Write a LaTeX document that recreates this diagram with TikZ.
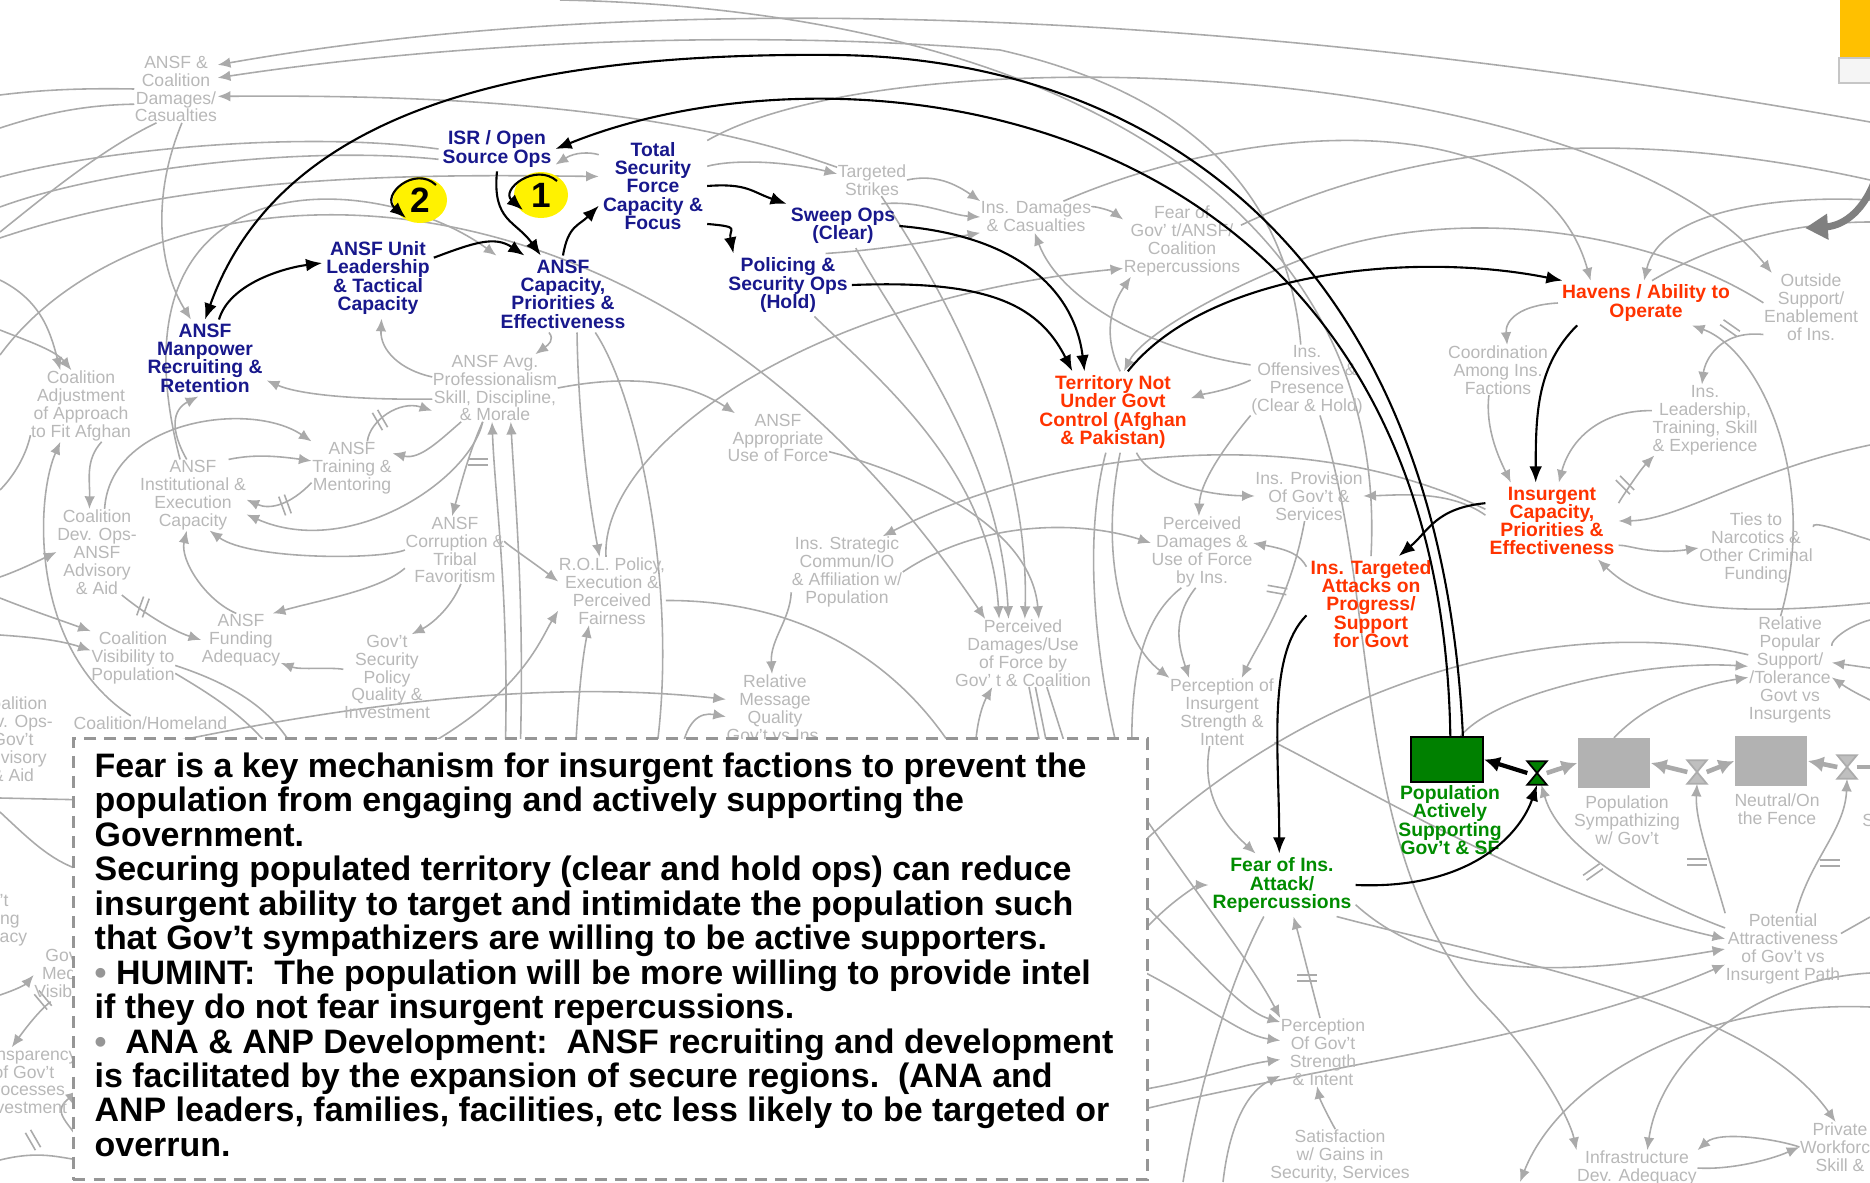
\documentclass[tikz,border=0pt]{standalone}
\usepackage{fontspec}
\setmainfont{Liberation Sans}
\usetikzlibrary{arrows.meta,shapes.geometric}
\pgfdeclarelayer{back}
\pgfsetlayers{back,main}
\definecolor{txtgray}{RGB}{184,184,184}
\definecolor{lngray}{RGB}{170,170,170}
\definecolor{navy}{RGB}{24,24,140}
\definecolor{ored}{RGB}{255,51,0}
\definecolor{dgreen}{RGB}{0,140,0}
\definecolor{stockgreen}{RGB}{0,128,0}
\definecolor{stockgray}{RGB}{178,178,178}
\definecolor{boxgray}{RGB}{150,150,150}
\definecolor{orng}{RGB}{255,192,0}
\tikzset{
  gnode/.style={text=txtgray, font=\fontsize{5}{5.1}\selectfont, align=center, inner sep=0pt},
  bnode/.style={text=navy, font=\bfseries\fontsize{5.5}{5.2}\selectfont, align=center, inner sep=1pt},
  rnode/.style={bnode, text=ored},
  grnode/.style={bnode, text=dgreen},
  gline/.style={draw=lngray, line width=0.45pt},
  garr/.style={gline, -{Latex[length=3.6pt,width=3pt]}},
  blk/.style={draw=black, line width=0.6pt, -{Latex[length=4.6pt,width=3.6pt]}},
  pipeb/.style={draw=black, line width=1.2pt, -{Latex[length=4.5pt,width=4.5pt]}},
  pipeg/.style={draw=lngray, line width=1.3pt, -{Latex[length=4.5pt,width=4.5pt]}},
  stockg/.style={draw=black, fill=stockgreen, line width=0.6pt, minimum width=0.72cm, minimum height=0.45cm, inner sep=0pt},
  stockgr/.style={fill=stockgray, minimum width=0.72cm, minimum height=0.49cm, inner sep=0pt},
  valvebox/.style={minimum width=0.18cm, minimum height=0.22cm, inner sep=0pt},
  loopnode/.style={ellipse, fill=yellow, minimum width=0.54cm, minimum height=0.46cm, inner sep=0pt, font=\bfseries\fontsize{10}{10}\selectfont},
  notebox/.style={draw=boxgray, fill=white, line width=0.85pt, dash pattern=on 3.4pt off 2.3pt, minimum width=10.73cm, minimum height=4.41cm, inner sep=0pt},
  notetext/.style={font=\bfseries\fontsize{9.65}{9.8}\selectfont, align=left, inner sep=0pt},
  bigarr/.style={draw=gray, line width=2pt, -{Triangle[length=6.5pt,width=7pt]}},
  dmark/.pic={\draw[gline] (-3,-10) -- (-3,10) (3,-10) -- (3,10);}
}
\begin{document}
\begin{tikzpicture}[x=0.01cm,y=-0.01cm]
\useasboundingbox (0,0) rectangle (1870,1182);
\clip (0,0) rectangle (1870,1182);
%%free ends
\foreach \n/\px/\py in {w1/0/95,w2/0/128,w3/0/232,w4/0/177,w5/0/207,w6/0/238,w7/0/355,w8/0/280,w9/0/330,
  w10/0/577,w11/0/598,w12/0/635,w13/0/490,w16/0/798,w17/0/812,w18/0/995,w20/0/1160,
  e1/1870/122,e3/1870/200,e4/1870/222,e5/1870/180,e6/1870/445,e7/1870/603,e8/1870/540,e10/1870/668,
  e11/1870/700,e12/1870/620,e14/1870/1007,e15/1870/917,e16/1870/973,e18/1870/767,
  n1/560/0,s1/1183/1182,s2/1223/1182,s3/1520/1182,
  b1/300/760,b2/280/760,b3/655/760,b4/400/760,b5/575/760,b6/505/760,b7/520/760,b8/90/760,b9/680/760,
  b10/960/760,b12/1120/760,b13/1132/760,b14/975/760,b15/1043/760,b16/1050/760,b17/1070/760,
  b18/1140/1110,b19/1140/845,b20/1140/935,b21/1140/810,b22/1140/900,b23/1140/970,b24/1140/1090,
  b26/90/800,b27/80/870,b28/80/1140,b29/80/1160}
  \coordinate (\n) at (\px,\py);
%%corner
\fill[orng] (1840,0) rectangle (1870,58);
\filldraw[fill=gray!8, draw=gray!45, line width=0.5pt] (1839,58) rectangle (1873,83);
\coordinate (ptrtail) at (1875,180);
\coordinate (ptrhead) at (1805,228);
\draw[bigarr] (ptrtail) .. controls (1862,215) and (1840,226) .. (ptrhead);
%%gray variables
\node[gnode] (dmg) at (176,89) {ANSF \&\\Coalition\\Damages/\\Casualties};
\node[gnode] (adj) at (81,406) {Coalition\\Adjustment\\of Approach\\to Fit Afghan};
\node[gnode] (inst) at (193,495) {ANSF\\Institutional \&\\Execution\\Capacity};
\node[gnode] (train) at (352,468) {ANSF\\Training \&\\Mentoring};
\node[gnode] (devops) at (97,552) {Coalition\\Dev. Ops-\\ANSF\\Advisory\\\& Aid};
\node[gnode] (visib) at (133,658) {Coalition\\Visibility to\\Population};
\node[gnode] (fund) at (241,640) {ANSF\\Funding\\Adequacy};
\node[gnode] (corr) at (455,550) {ANSF\\Corruption \&\\Tribal\\Favoritism};
\node[gnode] (secpol) at (387,677) {Gov't\\Security\\Policy\\Quality \&\\Investment};
\node[gnode, anchor=west] (home) at (73,723) {Coalition/Homeland};
\node[gnode] (avg) at (495,388) {ANSF Avg.\\Professionalism\\Skill, Discipline,\\\& Morale};
\node[gnode] (rol) at (612,591) {R.O.L. Policy,\\Execution \&\\Perceived\\Fairness};
\node[gnode] (approp) at (778,438) {ANSF\\Appropriate\\Use of Force};
\node[gnode] (strat) at (847,572) {Ins. Strategic\\Commun/IO\\\& Affiliation w/\\Population};
\node[gnode] (relmsg) at (775,708) {Relative\\Message\\Quality\\Gov't vs Ins.};
\node[gnode] (strikes) at (872,180) {Targeted\\Strikes};
\node[gnode] (insdmg) at (1036,217) {Ins. Damages\\\& Casualties};
\node[gnode] (feargov) at (1182,241) {Fear of\\Gov' t/ANSF/\\Coalition\\Repercussions};
\node[gnode] (offens) at (1307,380) {Ins.\\Offensives \&\\Presence\\(Clear \& Hold)};
\node[gnode] (outside) at (1811,307) {Outside\\Support/\\Enablement\\of Ins.};
\node[gnode] (coord) at (1498,370) {Coordination\\Among Ins.\\Factions};
\node[gnode] (insled) at (1705,420) {Ins.\\Leadership,\\Training, Skill\\\& Experience};
\node[gnode] (provis) at (1309,496) {Ins. Provision\\Of Gov't \&\\Services};
\node[gnode] (pdmgins) at (1202,552) {Perceived\\Damages \&\\Use of Force\\by Ins.};
\node[gnode] (pdmggov) at (1023,653) {Perceived\\Damages/Use\\of Force by\\Gov' t \& Coalition};
\node[gnode] (percins) at (1222,712) {Perception of\\Insurgent\\Strength \&\\Intent};
\node[gnode] (ties) at (1756,548) {Ties to\\Narcotics \&\\Other Criminal\\Funding};
\node[gnode] (relpop) at (1790,670) {Relative\\Popular\\Support/\\/Tolerance\\Govt vs\\Insurgents};
\node[gnode] (percgov) at (1323,1052) {Perception\\Of Gov't\\Strength\\\& Intent};
\node[gnode] (satis) at (1340,1156) {Satisfaction\\w/ Gains in\\Security, Services};
\node[gnode] (potent) at (1783,949) {Potential\\Attractiveness\\of Gov't vs\\Insurgent Path};
\node[gnode] (infra) at (1637,1168) {Infrastructure\\Dev. Adequacy};
\node[gnode] (priv) at (1840,1147) {Private\\Workforce\\Skill \&};
\node[gnode] (st1lab) at (1627,820) {Population\\Sympathizing\\w/ Gov't};
\node[gnode] (st2lab) at (1777,809) {Neutral/On\\the Fence};
\node[gnode] (st3lab) at (1915,820) {Population\\Sympathizing\\w/ Ins.};
\node[gnode] (leftA) at (13,739) {Coalition\\Dev. Ops-\\Gov't\\Advisory\\\& Aid};
\node[gnode] (leftB) at (-12,920) {Gov't\\Funding\\Adequacy};
\node[gnode] (leftC) at (66,975) {Gov't\\Media\\Visibility};
\node[gnode] (leftD) at (24,1081) {Transparency\\of Gov't\\Processes\\Investment};
%%highlighted variables
\node[bnode] (isr) at (497,149) {ISR / Open\\Source Ops};
\node[bnode] (tsf) at (653,186) {Total\\Security\\Force\\Capacity \&\\Focus};
\node[bnode] (sw) at (843,226) {Sweep Ops\\(Clear)};
\node[bnode] (pol) at (788,285) {Policing \&\\Security Ops\\(Hold)};
\node[bnode] (cap) at (563,294) {ANSF\\Capacity,\\Priorities \&\\Effectiveness};
\node[bnode] (ul) at (378,278) {ANSF Unit\\Leadership\\\& Tactical\\Capacity};
\node[bnode] (mp) at (205,358) {ANSF\\Manpower\\Recruiting \&\\Retention};
\node[rnode] (ter) at (1113,412) {Territory Not\\Under Govt\\Control (Afghan\\\& Pakistan)};
\node[rnode] (hav) at (1646,303) {Havens / Ability to\\Operate};
\node[rnode] (inscap) at (1552,521) {Insurgent\\Capacity,\\Priorities \&\\Effectiveness};
\node[rnode] (instarg) at (1371,604) {Ins. Targeted\\Attacks on\\Progress/\\Support\\for Govt};
\node[grnode] (popact) at (1450,820) {Population\\Actively\\Supporting\\Gov't \& SF};
\node[grnode] (fearins) at (1282,885) {Fear of Ins.\\Attack/\\Repercussions};
%%stocks and flows
\node[stockg] (popstock) at (1447,759.5) {};
\node[stockgr] (st1) at (1614,763) {};
\node[stockgr] (st2) at (1771,761) {};
\node[valvebox] (v1) at (1537,773) {};
\node[valvebox] (v2) at (1697,772) {};
\node[valvebox] (v3) at (1847,767) {};
\filldraw[fill=stockgreen, draw=black, line width=0.5pt] (v1.north west) -- (v1.north east) -- (v1.center) -- cycle
  (v1.south west) -- (v1.south east) -- (v1.center) -- cycle;
\foreach \v in {v2,v3}
  \filldraw[fill=gray!50, draw=gray!65, line width=0.5pt] (\v.north west) -- (\v.north east) -- (\v.center) -- cycle
  (\v.south west) -- (\v.south east) -- (\v.center) -- cycle;
\draw[pipeb] (v1.west) -- (popstock.east);
\draw[pipeg] (v1.east) -- (st1.west);
\draw[pipeg] (v2.west) -- (st1.east);
\draw[pipeg] (v2.east) -- (st2.west);
\draw[pipeg] (v3.west) -- (st2.east);
\draw[draw=lngray, line width=1.3pt] (v3.east) -- (e18);
%%loops
\node[loopnode] (loopb) at (420,200) {2};
\node[loopnode] (loopa) at (541,195) {1};
\draw[blk] (436,185) .. controls (415,165) and (380,195) .. (406,218);
\draw[blk] (557,181) .. controls (535,162) and (500,190) .. (523,210);
\begin{pgfonlayer}{back}
\clip (0,0) rectangle (1870,1182);
%%top arcs
\draw[garr] (e1) .. controls (1300,20) and (700,-20) .. (dmg.30);
\draw[garr] (offens.100) .. controls (1290,220) and (1220,100) .. (1000,50) .. controls (700,25) and (400,50) .. (dmg.15);
\draw[garr] (strikes.160) .. controls (650,100) and (400,95) .. (dmg.-10);
\draw[gline] (dmg.west) .. controls (80,88) and (40,90) .. (w1);
\draw[gline] (dmg.200) .. controls (80,105) and (40,115) .. (w2);
\draw[gline] (dmg.240) .. controls (100,150) and (40,200) .. (w3);
\draw[garr] (dmg.280) .. controls (150,200) and (160,270) .. (mp.110);
\draw[gline] (isr.west) .. controls (300,130) and (100,150) .. (w4);
\draw[gline] (isr.190) .. controls (300,145) and (100,170) .. (w5);
\draw[garr] (w6) .. controls (200,170) and (450,175) .. (tsf.170);
\draw[garr] (w7) .. controls (150,150) and (650,120) .. (pdmggov.138);
\draw[gline] (n1) .. controls (1050,10) and (1390,200) .. (instarg.north);
\draw[garr] (strikes.-60) .. controls (950,300) and (1030,450) .. (pdmggov.87);
\draw[garr] (sw.-60) .. controls (900,330) and (1000,450) .. (pdmggov.113);
\draw[garr] (pol.-50) .. controls (880,380) and (990,470) .. (pdmggov.125);
\draw[garr] (approp.-15) .. controls (900,470) and (1030,520) .. (pdmggov.65);
\draw[garr] (avg.east) .. controls (650,370) and (700,390) .. (approp.150);
\draw[garr] (cap.250) .. controls (555,340) and (548,345) .. (avg.40);
\draw[garr] (avg.170) .. controls (400,370) and (380,350) .. (ul.-85);
\draw[garr] (avg.190) .. controls (360,400) and (300,395) .. (mp.-20);
\draw[garr] (tsf.150) .. controls (590,152) and (575,152) .. (isr.-15);
\draw[garr] (tsf.20) .. controls (730,160) and (780,160) .. (strikes.170);
\draw[garr] (insdmg.30) .. controls (1250,120) and (1540,100) .. (hav.158);
\draw[garr] (e3) .. controls (1780,195) and (1660,210) .. (hav.95);
\draw[gline] (hav.75) .. controls (1720,240) and (1800,222) .. (e4);
\draw[garr] (tsf.40) .. controls (900,30) and (1600,60) .. (outside.139);
\draw[gline] (feargov.15) .. controls (1400,150) and (1600,120) .. (e5);
\draw[garr] (insdmg.10) .. controls (1090,205) and (1110,210) .. (feargov.160);
\draw[garr] (rol.100) .. controls (600,450) and (800,300) .. (feargov.205);
\draw[garr] (ter.80) .. controls (1100,330) and (1115,300) .. (feargov.215);
\draw[garr] (outside.175) .. controls (1650,230) and (1450,200) .. (1300,260) .. controls (1200,300) and (1140,340) .. (ter.75);
\draw[garr] (offens.west) .. controls (1230,390) and (1200,395) .. (ter.10);
\draw[garr] (offens.165) .. controls (1150,350) and (1060,300) .. (insdmg.-95);
\draw[garr] (strikes.east) .. controls (930,175) and (950,180) .. (insdmg.north west);
\draw[garr] (sw.30) .. controls (920,200) and (950,215) .. (insdmg.west);
\draw[garr] (pol.40) .. controls (880,250) and (940,240) .. (insdmg.south west);
%%left
\draw[garr] (w8) .. controls (40,300) and (50,330) .. (adj.120);
\draw[garr] (w9) .. controls (25,340) and (55,350) .. (adj.105);
\draw[garr] (adj.-60) .. controls (85,460) and (90,480) .. (devops.100);
\draw[garr] (devops.80) .. controls (110,420) and (250,400) .. (train.north west);
\draw[garr] (inst.45) .. controls (250,455) and (270,455) .. (train.170);
\draw[garr] (train.200) .. controls (290,505) and (270,510) .. (inst.-5);
\draw[garr] (train.60) .. controls (370,420) and (400,400) .. (avg.200);
\draw[garr] (avg.225) .. controls (440,440) and (420,460) .. (train.20);
\draw[garr] (avg.250) .. controls (470,480) and (350,560) .. (inst.-20);
\draw[garr] (corr.west) .. controls (380,560) and (250,560) .. (inst.-65);
\draw[garr] (corr.200) .. controls (380,590) and (320,600) .. (fund.40);
\draw[garr] (fund.100) .. controls (205,600) and (180,560) .. (inst.-100);
\draw[garr] (devops.-60) .. controls (140,610) and (170,630) .. (fund.west);
\draw[garr] (w10) .. controls (20,570) and (40,560) .. (devops.west);
\draw[garr] (w11) .. controls (30,610) and (60,620) .. (visib.north west);
\draw[garr] (w12) .. controls (30,637) and (60,640) .. (visib.170);
\draw[gline] (visib.-10) .. controls (250,690) and (280,720) .. (b1);
\draw[gline] (visib.-20) .. controls (220,700) and (250,720) .. (b2);
\draw[garr] (secpol.170) .. controls (330,667) and (300,670) .. (fund.-30);
\draw[garr] (corr.-80) .. controls (450,610) and (430,625) .. (secpol.60);
\draw[garr] (home.160) .. controls (30,650) and (35,500) .. (adj.-120);
\draw[gline] (adj.-150) .. controls (25,460) and (10,480) .. (w13);
\draw[garr] (inst.100) .. controls (170,430) and (172,410) .. (mp.-100);
\draw[garr] (inst.110) .. controls (100,150) and (380,170) .. (cap.150);
\draw[gline] (w16) -- (b26);
\draw[gline] (w17) .. controls (30,840) and (50,860) .. (b27);
\draw[garr] (w18) .. controls (15,990) and (25,985) .. (leftC.west);
\draw[garr] (leftC.-120) .. controls (40,1010) and (28,1025) .. (leftD.110);
\draw[garr] (b28) .. controls (60,1115) and (55,1110) .. (leftD.-10);
\draw[gline] (w20) .. controls (40,1150) and (60,1158) .. (b29);
%%middle
\draw[garr] (cap.-70) .. controls (578,400) and (585,480) .. (rol.110);
\draw[gline] (cap.-50) .. controls (640,400) and (680,600) .. (b3);
\draw[garr] (corr.10) .. controls (500,540) and (530,560) .. (rol.170);
\draw[garr] (b4) .. controls (520,700) and (540,640) .. (rol.200);
\draw[garr] (b5) .. controls (578,700) and (582,660) .. (rol.-124);
\draw[garr] (b6) .. controls (510,600) and (495,500) .. (avg.-95);
\draw[garr] (b7) .. controls (525,600) and (515,500) .. (avg.-65);
\draw[garr] (avg.-110) .. controls (470,450) and (462,480) .. (corr.95);
\draw[garr] (strat.200) .. controls (790,620) and (770,640) .. (relmsg.95);
\draw[garr] (b8) .. controls (350,700) and (550,680) .. (relmsg.170);
\draw[garr] (b9) .. controls (685,720) and (700,712) .. (relmsg.190);
\draw[gline] (rol.-10) .. controls (800,600) and (900,660) .. (b10);
\draw[garr] (inscap.170) .. controls (1300,420) and (1050,450) .. (strat.45);
\draw[garr] (inscap.175) .. controls (1450,490) and (1400,495) .. (provis.east);
\draw[garr] (ter.-60) .. controls (1150,480) and (1200,495) .. (provis.west);
\draw[garr] (offens.south west) .. controls (1230,440) and (1200,480) .. (pdmgins.95);
\draw[garr] (instarg.150) .. controls (1300,555) and (1290,550) .. (pdmgins.10);
\draw[garr] (strat.east) .. controls (980,520) and (1080,520) .. (pdmgins.170);
\draw[garr] (pdmgins.-100) .. controls (1170,620) and (1180,650) .. (percins.134);
\draw[garr] (provis.-100) .. controls (1290,600) and (1260,640) .. (percins.60);
\draw[garr] (ter.-80) .. controls (1100,550) and (1120,640) .. (percins.north west);
\draw[gline] (ter.-100) .. controls (1080,550) and (1100,680) .. (b12);
\draw[gline] (pdmgins.-120) .. controls (1140,620) and (1130,680) .. (b13);
\draw[garr] (b14) .. controls (975,720) and (985,700) .. (pdmggov.-132);
\draw[gline] (pdmggov.-80) -- (b15);
\draw[gline] (pdmggov.-70) -- (b16);
\draw[gline] (pdmggov.-55) -- (b17);
%%right
\draw[garr] (hav.west) .. controls (1520,305) and (1505,320) .. (coord.70);
\draw[garr] (coord.-110) .. controls (1485,430) and (1500,460) .. (inscap.137);
\draw[garr] (insled.170) .. controls (1600,410) and (1570,440) .. (inscap.80);
\draw[garr] (inscap.15) .. controls (1620,500) and (1640,470) .. (insled.-145);
\draw[garr] (e6) .. controls (1750,470) and (1680,520) .. (inscap.east);
\draw[garr] (inscap.-20) .. controls (1630,545) and (1650,555) .. (ties.west);
\draw[garr] (e7) .. controls (1700,620) and (1640,600) .. (inscap.-40);
\draw[gline] (ties.20) .. controls (1810,520) and (1840,530) .. (e8);
\draw[garr] (relpop.100) .. controls (1820,480) and (1760,350) .. (hav.-26);
\draw[garr] (outside.-150) .. controls (1720,330) and (1705,360) .. (insled.95);
\draw[garr] (potent.160) .. controls (1650,900) and (1560,850) .. (v1.-70);
\draw[garr] (potent.north west) .. controls (1710,860) and (1695,820) .. (v2.south);
\draw[garr] (potent.70) .. controls (1810,860) and (1845,830) .. (v3.south);
\draw[garr] (percins.-30) .. controls (1350,780) and (1550,900) .. (potent.170);
\draw[garr] (fearins.-15) .. controls (1450,990) and (1600,970) .. (potent.west);
\draw[garr] (b18) .. controls (1350,1060) and (1550,1040) .. (potent.-165);
\draw[garr] (fearins.-30) .. controls (1500,960) and (1750,1000) .. (priv.100);
\draw[garr] (offens.-70) .. controls (1380,600) and (1350,850) .. (1480,1000) .. controls (1540,1060) and (1570,1120) .. (infra.north west);
\draw[garr] (popstock.60) .. controls (1500,690) and (1650,660) .. (relpop.175);
\draw[garr] (st1.north) .. controls (1650,700) and (1700,685) .. (relpop.190);
\draw[gline] (relpop.160) .. controls (1600,620) and (1350,650) .. (b19);
\draw[garr] (e10) -- (relpop.10);
\draw[garr] (e11) .. controls (1860,695) and (1850,690) .. (relpop.-10);
\draw[gline] (relpop.30) .. controls (1830,640) and (1850,625) .. (e12);
\draw[garr] (satis.100) .. controls (1330,1120) and (1320,1100) .. (percgov.-100);
\draw[garr] (percgov.95) .. controls (1310,980) and (1300,940) .. (fearins.-70);
\draw[garr] (percins.-110) .. controls (1200,800) and (1230,830) .. (fearins.130);
\draw[garr] (b20) .. controls (1170,900) and (1200,885) .. (fearins.west);
\draw[garr] (b21) .. controls (1200,900) and (1250,960) .. (percgov.north west);
\draw[garr] (b22) .. controls (1200,960) and (1240,1010) .. (percgov.145);
\draw[garr] (b23) .. controls (1200,1000) and (1240,1035) .. (percgov.165);
\draw[garr] (b24) .. controls (1200,1080) and (1240,1065) .. (percgov.190);
\draw[garr] (s2) .. controls (1230,1120) and (1250,1090) .. (percgov.209);
\draw[gline] (fearins.-120) .. controls (1230,980) and (1200,1080) .. (s1);
\draw[garr] (priv.180) .. controls (1780,1140) and (1720,1130) .. (infra.north east);
\draw[garr] (infra.east) .. controls (1730,1170) and (1770,1160) .. (priv.west);
\draw[garr] (e14) .. controls (1700,1000) and (1560,1080) .. (s3);
\draw[gline] (potent.15) -- (e15);
\draw[garr] (e16) .. controls (1750,980) and (1660,1060) .. (infra.60);
%%delays
\pic[rotate=30] at (380,420) {dmark};
\pic[rotate=20] at (285,505) {dmark};
\pic[rotate=-20] at (143,607) {dmark};
\pic[rotate=-90] at (478,462) {dmark};
\pic[rotate=45] at (1625,485) {dmark};
\pic[rotate=55] at (1730,328) {dmark};
\pic[rotate=-100] at (1277,590) {dmark};
\pic[rotate=90] at (1307,978) {dmark};
\pic[rotate=125] at (1593,872) {dmark};
\pic[rotate=90] at (1697,862) {dmark};
\pic[rotate=90] at (1830,863) {dmark};
\pic[rotate=40] at (43,1000) {dmark};
\pic[rotate=30] at (33,1140) {dmark};
\end{pgfonlayer}
%%black links
\draw[blk] (isr.south) .. controls +(-5,50) and +(-25,-35) .. (cap.120);
\draw[blk] (cap.north) .. controls +(5,-30) and +(-20,20) .. (tsf.200);
\draw[blk] (tsf.east) .. controls +(40,-3) and +(-35,-12) .. (sw.north west);
\draw[blk] (tsf.-35) .. controls +(35,3) and +(-5,-25) .. (pol.150);
\draw[blk] (ul.20) .. controls +(40,-15) and +(-30,-20) .. (cap.135);
\draw[blk] (mp.70) .. controls +(10,-35) and +(-40,5) .. (ul.165);
\draw[blk] (popstock.82) .. controls (1440,100) and (850,30) .. (isr.east);
\draw[blk] (popstock.56) .. controls (1440,250) and (1150,58) .. (835,55) .. controls (520,52) and (280,110) .. (mp.north);
\draw[blk] (sw.east) .. controls +(120,10) and +(-10,-80) .. (ter.125);
\draw[blk] (pol.east) .. controls +(130,-5) and +(-35,-70) .. (ter.135);
\draw[blk] (ter.70) .. controls +(80,-100) and +(-150,-30) .. (hav.165);
\draw[blk] (hav.198) .. controls +(-40,40) and +(0,-70) .. (inscap.113);
\draw[blk] (inscap.165) .. controls +(-50,5) and +(30,-25) .. (instarg.60);
\draw[blk] (instarg.190) .. controls +(-40,40) and +(0,-100) .. (fearins.95);
\draw[blk] (fearins.east) .. controls +(120,5) and +(-15,45) .. (v1.south);
%%note
\node[notebox, anchor=north west] (note) at (72,737) {};
\node[notetext, anchor=north west] (notetxt) at (94,752) {Fear is a key mechanism for insurgent factions to prevent the\\
population from engaging and actively supporting the\\
Government.\\
Securing populated territory (clear and hold ops) can reduce\\
insurgent ability to target and intimidate the population such\\
that Gov’t sympathizers are willing to be active supporters.\\
{\color{boxgray}•} HUMINT:\ \ The population will be more willing to provide intel\\
if they do not fear insurgent repercussions.\\
{\color{boxgray}•}\ \ ANA \& ANP Development:\ \ ANSF recruiting and development\\
is facilitated by the expansion of secure regions.\ \ (ANA and\\
ANP leaders, families, facilities, etc less likely to be targeted or\\
overrun.};
\end{tikzpicture}
\end{document}
